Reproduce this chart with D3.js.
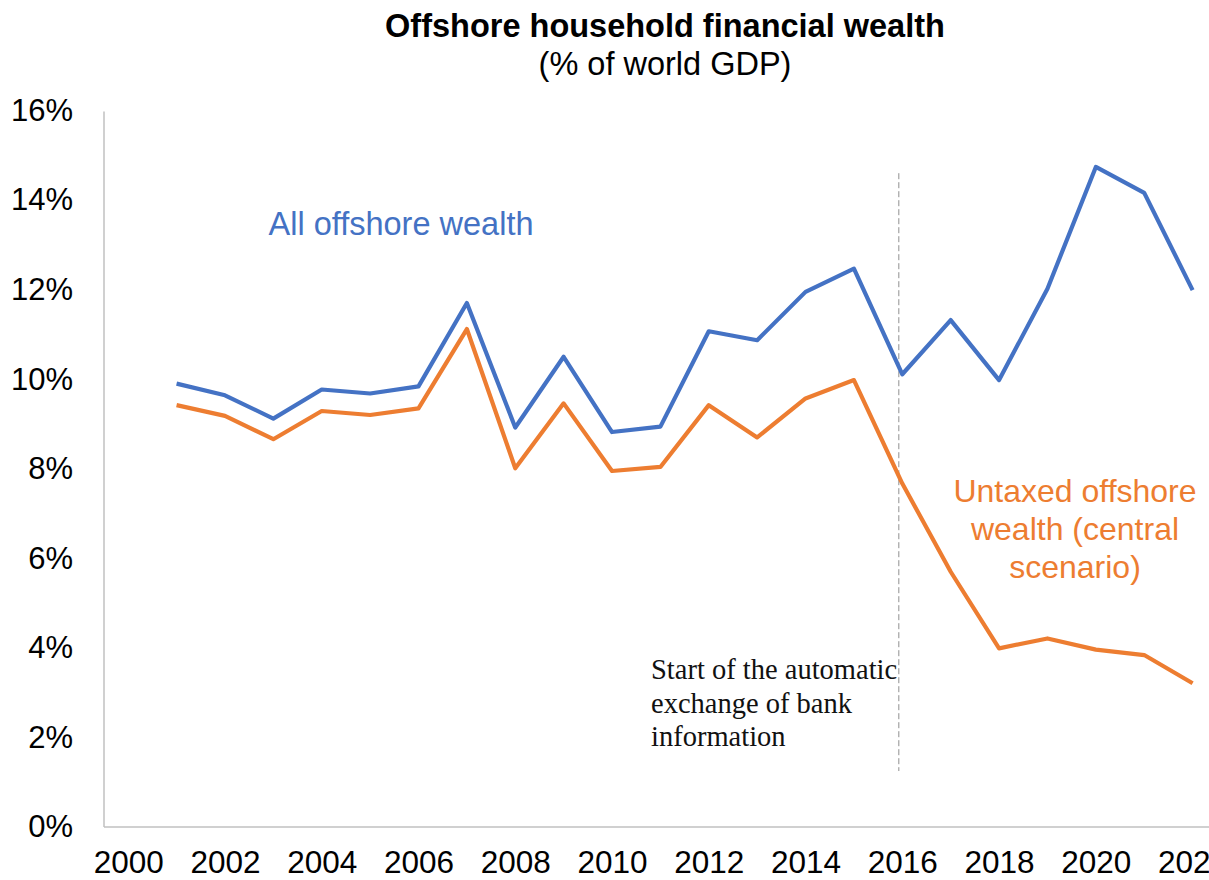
<!DOCTYPE html>
<html>
<head>
<meta charset="utf-8">
<script src="https://cdn.jsdelivr.net/npm/d3@7/dist/d3.min.js"></script>
<style>
  html, body { margin: 0; padding: 0; background: #ffffff; }
  svg { display: block; }
</style>
</head>
<body>
<script>
// ---- Data ----
const years = [2001, 2002, 2003, 2004, 2005, 2006, 2007, 2008, 2009, 2010, 2011,
               2012, 2013, 2014, 2015, 2016, 2017, 2018, 2019, 2020, 2021, 2022];
const allOffshore = [9.90, 9.64, 9.12, 9.77, 9.68, 9.84, 11.70, 8.92, 10.50, 8.82, 8.94,
                     11.07, 10.87, 11.95, 12.47, 10.11, 11.32, 9.98, 12.02, 14.74, 14.16, 11.99];
const untaxedOffshore = [9.42, 9.18, 8.66, 9.29, 9.20, 9.35, 11.12, 8.01, 9.46, 7.95, 8.04,
                         9.42, 8.70, 9.57, 9.98, 7.67, 5.70, 3.99, 4.21, 3.96, 3.84, 3.21];
const xTickLabels = [2000, 2002, 2004, 2006, 2008, 2010, 2012, 2014, 2016, 2018, 2020, 2022];
const yTickValues = [0, 2, 4, 6, 8, 10, 12, 14, 16];
const titleText = "Offshore household financial wealth";
const subtitleText = "(% of world GDP)";
const allLabel = ["All offshore wealth"];
const untaxedLabel = ["Untaxed offshore", "wealth (central", "scenario)"];
const noteLines = ["Start of the automatic", "exchange of bank", "information"];
const eventYear = 2016;

// ---- Layout ----
const W = 1209, H = 880;
const blue = "#4472C4", orange = "#ED7D31", axisGrey = "#C0C0C0";
const SANS = "'Liberation Sans', Arial, Helvetica, sans-serif";
const SERIF = "'Liberation Serif', 'Times New Roman', 'DejaVu Serif', serif";

const svg = d3.select("body").append("svg").attr("width", W).attr("height", H);

// category axis (categories 2000..2022, centred in bands)
const x = d3.scaleLinear().domain([1999.5, 2022.5]).range([104, 1216.8]);
const y = d3.scaleLinear().domain([0, 16]).range([827, 110.5]);

// Title
svg.append("text").attr("x", 665).attr("y", 37).attr("text-anchor", "middle")
  .style("font-family", SANS).style("font-size", "32.5px").style("font-weight", "bold")
  .attr("fill", "#000").text(titleText);
svg.append("text").attr("x", 665).attr("y", 75).attr("text-anchor", "middle")
  .style("font-family", SANS).style("font-size", "32.5px")
  .attr("fill", "#000").text(subtitleText);

// Y axis
const yAxis = d3.axisLeft(y).tickValues(yTickValues).tickSize(0).tickPadding(31)
  .tickFormat(d => d + "%");
const gy = svg.append("g").attr("transform", "translate(104,0)").call(yAxis);
gy.select(".domain").attr("stroke", axisGrey).attr("stroke-width", 1.5)
  .attr("d", `M0,${y(16) + 1}V${y(0)}`);
gy.selectAll("text").style("font-size", "31px").style("font-family", SANS).attr("fill", "#000");

// X axis
const xAxis = d3.axisBottom(x).tickValues(xTickLabels).tickSize(0).tickPadding(24)
  .tickFormat(d3.format("d"));
const gx = svg.append("g").attr("transform", `translate(0,${y(0)})`).call(xAxis);
gx.select(".domain").attr("stroke", axisGrey).attr("stroke-width", 1.5)
  .attr("d", `M104,0H${W + 10}`);
gx.selectAll("text").style("font-size", "31.5px").style("font-family", SANS).attr("fill", "#000");

// Event dashed line
svg.append("line")
  .attr("x1", x(eventYear) - 3.5).attr("x2", x(eventYear) - 3.5)
  .attr("y1", y(14.6)).attr("y2", y(1.25))
  .attr("stroke", "#8f8f8f").attr("stroke-width", 1)
  .attr("stroke-dasharray", "6,3");

// Lines
const line = d3.line().x((d, i) => x(years[i])).y(d => y(d));
svg.append("path").datum(untaxedOffshore).attr("d", line)
  .attr("fill", "none").attr("stroke", orange).attr("stroke-width", 4.2)
  .attr("stroke-linejoin", "round");
svg.append("path").datum(allOffshore).attr("d", line)
  .attr("fill", "none").attr("stroke", blue).attr("stroke-width", 4.2)
  .attr("stroke-linejoin", "round");

// Series labels
svg.append("text").attr("x", 401).attr("y", 235).attr("text-anchor", "middle")
  .style("font-family", SANS).style("font-size", "32.5px").attr("fill", blue).text(allLabel[0]);

svg.append("g").selectAll("text").data(untaxedLabel).join("text")
  .attr("x", 1075).attr("y", (d, i) => 502 + i * 38).attr("text-anchor", "middle")
  .style("font-family", SANS).style("font-size", "32px").attr("fill", orange).text(d => d);

// Annotation
svg.append("g").selectAll("text").data(noteLines).join("text")
  .attr("x", 651).attr("y", (d, i) => 679 + i * 33.5)
  .style("font-family", SERIF).style("font-size", "28.5px")
  .attr("fill", "#111").text(d => d);
</script>
</body>
</html>
